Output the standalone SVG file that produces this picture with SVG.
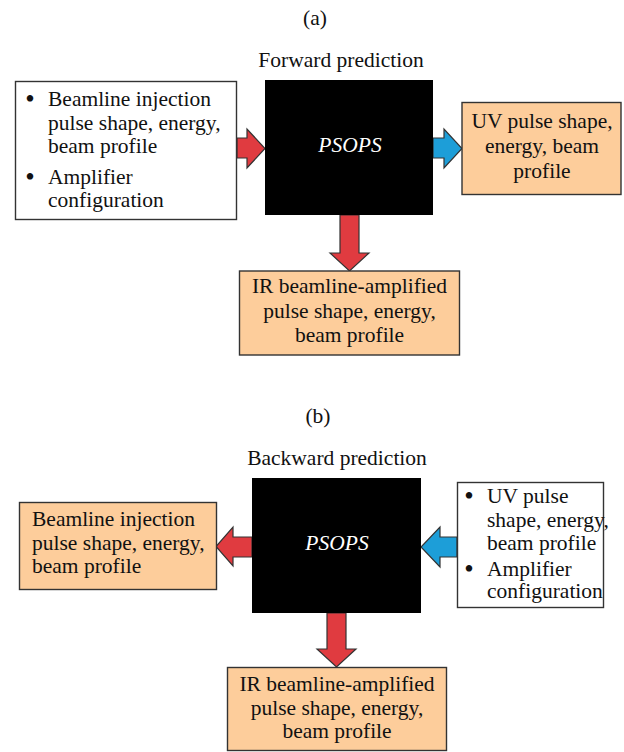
<svg xmlns="http://www.w3.org/2000/svg" width="624" height="752" viewBox="0 0 624 752">
<style>
text{font-family:"Liberation Serif","Times New Roman",serif;font-size:21.5px;fill:#111}
.c{text-anchor:middle}
.ps{fill:#fff;font-style:italic}
.bu{font-size:27px;text-anchor:middle}
.box{fill:#fff;stroke:#333;stroke-width:1.4}
.or{fill:#fdcd9b;stroke:#333;stroke-width:1.4}
.blk{fill:#000}
.red{fill:#e03b40;stroke:#333;stroke-width:1.2;stroke-linejoin:miter}
.blue{fill:#1d9ed8;stroke:#333;stroke-width:1.2}
</style>
<rect width="624" height="752" fill="#fff"/>
<text class="c" x="315" y="25">(a)</text>
<text class="c" x="341" y="67">Forward prediction</text>
<text class="c" x="318" y="423">(b)</text>
<text class="c" x="337" y="465">Backward prediction</text>

<g id="connectors">
<polygon class="red" points="237,138 247,138 247,129 265,148.5 247,168 247,158 237,158"/>
<polygon class="blue" points="433,138 444,138 444,129 462,148.5 444,168 444,158 433,158"/>
<polygon class="red" points="340,215 359,215 359,253 369,253 349.5,271 330,253 340,253"/>
<polygon class="red" points="252,537 233,537 233,527 216,546.5 233,566 233,557 252,557"/>
<polygon class="blue" points="457,537 440,537 440,527 421,547 440,567 440,557 457,557"/>
<polygon class="red" points="327,613 346,613 346,649 356,649 336.5,667 317,649 327,649"/>
</g>

<g id="a-inputs">
<rect class="box" x="15.5" y="81.5" width="221" height="138"/>
<text class="bu" x="30" y="108">•</text>
<text x="48" y="106">Beamline injection</text>
<text x="48" y="130">pulse shape, energy,</text>
<text x="48" y="153">beam profile</text>
<text class="bu" x="30" y="186">•</text>
<text x="48" y="184">Amplifier</text>
<text x="48" y="207">configuration</text>
</g>
<g id="a-psops">
<rect class="blk" x="265" y="80" width="168" height="135"/>
<text class="c ps" x="350" y="152">PSOPS</text>
</g>
<g id="a-uv">
<rect class="or" x="462" y="102.5" width="159" height="92"/>
<text class="c" x="542" y="128">UV pulse shape,</text>
<text class="c" x="542" y="153">energy, beam</text>
<text class="c" x="542" y="178">profile</text>
</g>
<g id="a-ir">
<rect class="or" x="239.5" y="271" width="220" height="84"/>
<text class="c" x="349.5" y="293">IR beamline-amplified</text>
<text class="c" x="349.5" y="318">pulse shape, energy,</text>
<text class="c" x="349.5" y="342">beam profile</text>
</g>

<g id="b-inj">
<rect class="or" x="19.5" y="502.5" width="197" height="87"/>
<text x="32" y="526">Beamline injection</text>
<text x="32" y="550">pulse shape, energy,</text>
<text x="32" y="573">beam profile</text>
</g>
<g id="b-psops">
<rect class="blk" x="252" y="478" width="169" height="135"/>
<text class="c ps" x="337" y="550">PSOPS</text>
</g>
<g id="b-inputs">
<rect class="box" x="457.5" y="482.5" width="146" height="125"/>
<text class="bu" x="469" y="505">•</text>
<text x="487" y="503">UV pulse</text>
<text x="487" y="527">shape, energy,</text>
<text x="487" y="550">beam profile</text>
<text class="bu" x="469" y="578">•</text>
<text x="487" y="576">Amplifier</text>
<text x="487" y="598">configuration</text>
</g>
<g id="b-ir">
<rect class="or" x="227.5" y="667.5" width="219" height="83"/>
<text class="c" x="337" y="691">IR beamline-amplified</text>
<text class="c" x="337" y="715">pulse shape, energy,</text>
<text class="c" x="337" y="738">beam profile</text>
</g>
</svg>
